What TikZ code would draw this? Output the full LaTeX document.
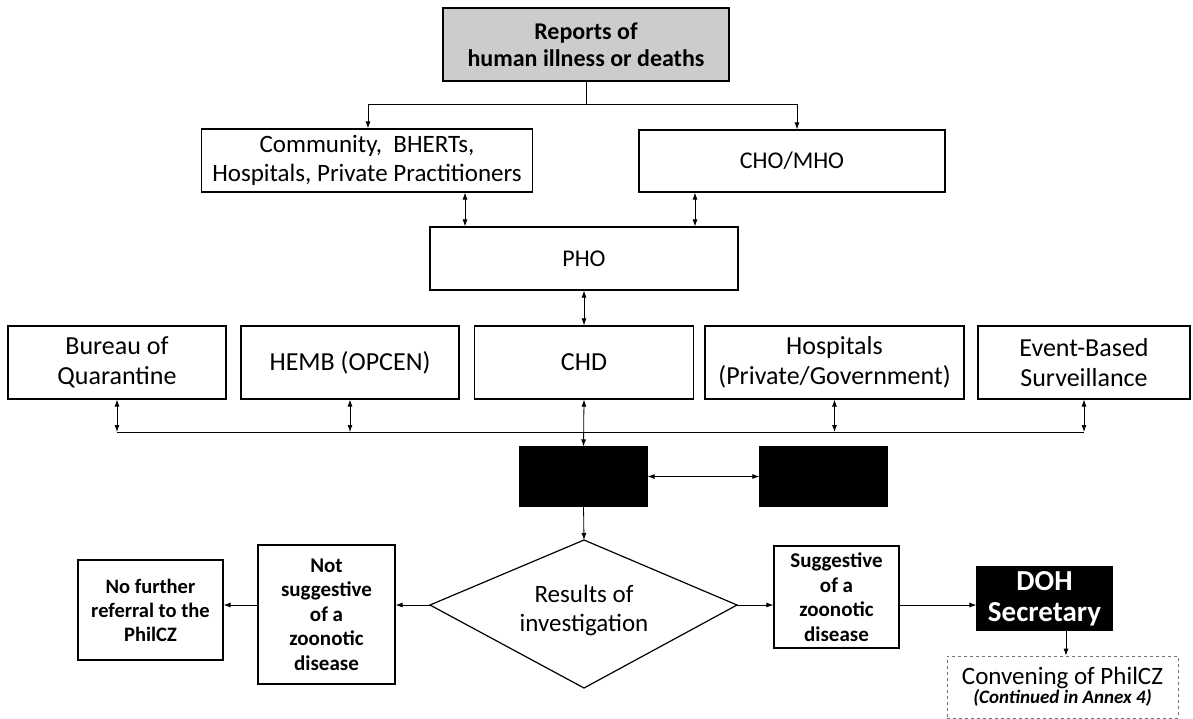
\documentclass[tikz,border=0pt]{standalone}
\usepackage{fontspec}
\setmainfont{Carlito}
\usetikzlibrary{shapes.geometric,arrows.meta,calc}
\begin{document}
\begin{tikzpicture}[x=1pt,y=-1pt,
 box/.style={draw,line width=1.2pt,inner sep=0pt,align=center,font=\fontsize{24}{28}\selectfont},
 rowbox/.style={box,minimum height=73,font=\fontsize{26}{30}\selectfont},
 bbox/.style={box,font=\bfseries\fontsize{21}{24.5}\selectfont},
 blk/.style={draw,fill=black,line width=1.2pt,inner sep=0pt},
 arr/.style={line width=0.8pt,-{Latex[length=7pt,width=5pt]}},
 darr/.style={line width=0.8pt,{Latex[length=7pt,width=5pt]}-{Latex[length=7pt,width=5pt]}},
 ]
\useasboundingbox (0,0) rectangle (1193,718);
% top
\node[box,fill=black!20,minimum width=286,minimum height=73,font=\bfseries\fontsize{24}{27}\selectfont] (top) at (586,44.5) {Reports of\\human illness or deaths};
\node[box,minimum width=331,minimum height=63,font=\fontsize{25}{29}\selectfont] (comm) at (367,160.5) {Community, \ BHERTs,\\Hospitals, Private Practitioners};
\node[box,minimum width=306,minimum height=62] (cho) at (792,161) {CHO/MHO};
\node[box,minimum width=308,minimum height=63] (pho) at (584,258.5) {PHO};
% row
\node[rowbox,minimum width=218] (bq) at (117,362.5) {Bureau of\\Quarantine};
\node[rowbox,minimum width=218] (hemb) at (350,362.5) {HEMB (OPCEN)};
\node[rowbox,minimum width=219] (chd) at (584,362.5) {CHD};
\node[rowbox,minimum width=259] (hosp) at (834.5,362.5) {Hospitals\\(Private/Government)};
\node[rowbox,minimum width=212] (ebs) at (1084,362.5) {Event-Based\\Surveillance};
% black boxes
\node[blk,minimum width=127,minimum height=59] (b1) at (583.5,476.5) {};
\node[blk,minimum width=127,minimum height=59] (b2) at (823.5,476.5) {};
% diamond
\coordinate (dT) at (584,540);
\coordinate (dL) at (430,605);
\coordinate (dB) at (584,688);
\coordinate (dR) at (737,605);
\draw[line width=1.2pt,line join=miter] (dT) -- (dR) -- (dB) -- (dL) -- cycle;
\node[align=center,inner sep=0pt,font=\fontsize{25}{29}\selectfont] (res) at (584,610) {Results of\\investigation};
\node[bbox,minimum width=137,minimum height=139] (ns) at (326.5,614.5) {Not\\suggestive\\of a\\zoonotic\\disease};
\node[bbox,minimum width=145,minimum height=100,font=\bfseries\fontsize{20.5}{24}\selectfont] (nf) at (150.5,610) {No further\\referral to the\\PhilCZ};
\node[bbox,minimum width=125,minimum height=102] (sg) at (836.5,597) {Suggestive\\of a\\zoonotic\\disease};
\node[blk,minimum width=135,minimum height=63,text=white,align=center,font=\bfseries\fontsize{29}{31}\selectfont] (doh) at (1044.5,598.5) {DOH\\Secretary};
\node[draw=black!55,dashed,line width=0.8pt,minimum width=231,minimum height=62,inner sep=0pt,align=center] (conv) at (1062.5,687) {{\fontsize{25}{27}\selectfont Convening of PhilCZ}\\[0pt]{\bfseries\itshape\fontsize{19}{21}\selectfont (Continued in Annex 4)}};
% connectors top
\coordinate (jL) at (368,104);
\coordinate (jR) at (797,104);
\draw[line width=0.8pt] (top.south) |- (jL);
\draw[line width=0.8pt] (top.south |- jR) -- (jR);
\draw[arr] (jL) -- (comm.north -| jL);
\draw[arr] (jR) -- (cho.north -| jR);
\coordinate (x1) at (465,0);
\coordinate (x2) at (695,0);
\draw[darr] (comm.south -| x1) -- (pho.north -| x1);
\draw[darr] (cho.south -| x2) -- (pho.north -| x2);
\draw[darr] (pho.south) -- (chd.north);
% bus
\coordinate (busy) at (0,432);
\draw[line width=0.8pt] (bq.south |- busy) -- (ebs.south |- busy);
\draw[darr] (bq.south) -- (bq.south |- busy);
\draw[darr] (hemb.south) -- (hemb.south |- busy);
\draw[darr] (hosp.south) -- (hosp.south |- busy);
\draw[darr] (ebs.south) -- (ebs.south |- busy);
\draw[darr] (chd.south) -- (b1.north);
\draw[darr] (b1.east) -- (b2.west);
\draw[arr] (b1.south) -- (dT);
% bottom
\draw[arr] (dL) -- (dL -| ns.east);
\draw[arr] (dL -| ns.west) -- (dL -| nf.east);
\draw[arr] (dR) -- (dR -| sg.west);
\draw[arr] (dR -| sg.east) -- (dR -| doh.west);
\coordinate (x3) at (1066,0);
\draw[arr] (doh.south -| x3) -- (conv.north -| x3);
\end{tikzpicture}
\end{document}
